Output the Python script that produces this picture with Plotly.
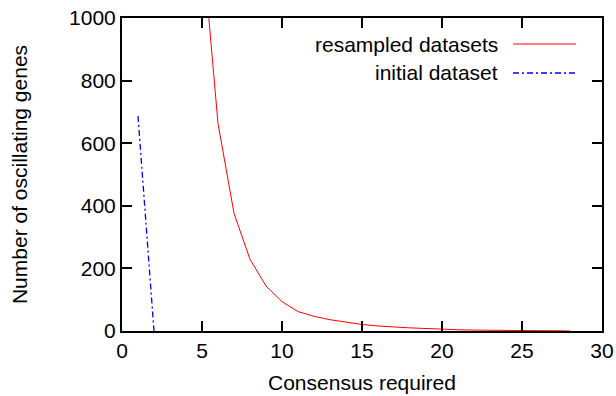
import plotly.graph_objects as go

# Data
resampled_x = [5, 6, 7, 8, 9, 10, 11, 12, 13, 14, 15, 16, 17, 18, 19, 20, 21, 22, 23, 24, 25, 26, 27, 28]
resampled_y = [1250, 663, 376, 229, 144, 94, 62, 47, 36, 28, 21, 16, 12, 10, 8, 5, 4, 3, 2, 2, 1, 1, 1, 0]
initial_x = [1, 2]
initial_y = [687, 0]

series_names = ["resampled datasets", "initial dataset"]
x_ticks = [0, 5, 10, 15, 20, 25, 30]
y_ticks = [0, 200, 400, 600, 800, 1000]

FONT = "Liberation Sans, Arial, Helvetica, sans-serif"
FS = 21

fig = go.Figure()
fig.add_trace(go.Scatter(x=resampled_x, y=resampled_y, mode="lines",
                         line=dict(color="#ff0000", width=1), name=series_names[0],
                         showlegend=False))
fig.add_trace(go.Scatter(x=initial_x, y=initial_y, mode="lines",
                         line=dict(color="#0000ff", width=1.3, dash="6px,3px,2px,3px"),
                         name=series_names[1], showlegend=False))

# gnuplot-style legend: text right-aligned, sample line to its right
legend_rows = [(series_names[0], 0.9169, dict(color="#ff0000", width=1)),
               (series_names[1], 0.8243, dict(color="#0000ff", width=1.3, dash="6px,3px,2px,3px"))]
for name, yp, ln in legend_rows:
    fig.add_annotation(x=0.7875, y=yp, xref="paper", yref="paper", text=name,
                       showarrow=False, xanchor="right", yanchor="middle",
                       font=dict(family=FONT, size=FS, color="black"))
    fig.add_shape(type="line", xref="paper", yref="paper", x0=0.8146, x1=0.9458,
                  y0=yp, y1=yp, line=ln)

axis_common = dict(showline=True, linecolor="black", linewidth=2, mirror="ticks",
                   ticks="inside", ticklen=10, tickwidth=1.5, tickcolor="black",
                   showgrid=False, zeroline=False, automargin=False,
                   tickfont=dict(family=FONT, size=FS, color="black"))

fig.update_layout(
    width=616, height=396,
    margin=dict(l=122, r=14, t=18, b=65),
    plot_bgcolor="white", paper_bgcolor="white",
    xaxis=dict(range=[0, 30], tickvals=x_ticks,
               title=dict(text="Consensus required", font=dict(family=FONT, size=FS, color="black"), standoff=14),
               **axis_common),
    yaxis=dict(range=[0, 1000], tickvals=y_ticks,
               title=dict(text="Number of oscillating genes", font=dict(family=FONT, size=FS, color="black"), standoff=36),
               **axis_common),
)

fig.write_html("out.html")
